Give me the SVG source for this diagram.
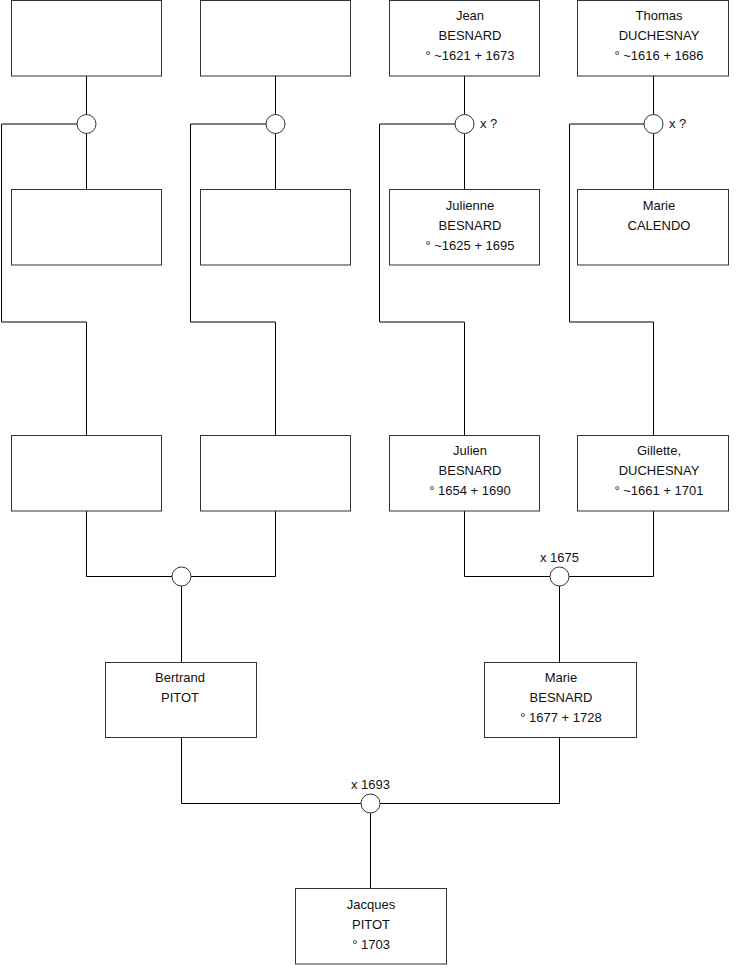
<svg xmlns="http://www.w3.org/2000/svg" width="740" height="975" viewBox="0 0 740 975">
<style>
.box{fill:#fff;stroke:#333;stroke-width:1}
.ln{fill:none;stroke:#000;stroke-width:1}
.m{fill:#fff;stroke:#333;stroke-width:1}
text{font-family:"Liberation Sans",Arial,sans-serif;font-size:13px;fill:#111;text-anchor:middle}
.lbl{text-anchor:start}
</style>
<rect width="740" height="975" fill="#fff"/>
<g id="connectors">
<path class="ln" d="M86.5,76 V189 M1.5,124 H86.5 M1.5,124 V322 H86.5 V435"/>
<path class="ln" d="M275.5,76 V189 M190.5,124 H275.5 M190.5,124 V322 H275.5 V435"/>
<path class="ln" d="M464.5,76 V189 M379.5,124 H464.5 M379.5,124 V322 H464.5 V435"/>
<path class="ln" d="M653.5,76 V189 M569.5,124 H653.5 M569.5,124 V322 H653.5 V435"/>
<path class="ln" d="M86.5,511 V576.5 H275.5 V511 M181.5,576 V662"/>
<path class="ln" d="M464.5,511 V576.5 H653.5 V511 M559.5,576 V662"/>
<path class="ln" d="M181.5,737 V803.5 H559.5 V737 M370.5,803 V888"/>
<circle class="m" cx="86.5" cy="124" r="9.5"/>
<circle class="m" cx="275.5" cy="124" r="9.5"/>
<circle class="m" cx="464.5" cy="124" r="9.5"/>
<circle class="m" cx="653.5" cy="124" r="9.5"/>
<circle class="m" cx="181.5" cy="576.5" r="9.5"/>
<circle class="m" cx="559.5" cy="576.5" r="9.5"/>
<circle class="m" cx="370.5" cy="803.5" r="9.5"/>
<text class="lbl" x="480" y="128">x ?</text>
<text class="lbl" x="669" y="128">x ?</text>
<text x="559.5" y="562">x 1675</text>
<text x="370.5" y="789">x 1693</text>
</g>
<g id="n1"><rect class="box" x="11.5" y="0.5" width="150" height="75.5"/></g>
<g id="n2"><rect class="box" x="200.5" y="0.5" width="150" height="75.5"/></g>
<g id="n3"><rect class="box" x="389.5" y="0.5" width="150" height="75.5"/>
<text x="470" y="20">Jean</text><text x="470" y="40">BESNARD</text><text x="470" y="60">° ~1621 + 1673</text></g>
<g id="n4"><rect class="box" x="577.5" y="0.5" width="151" height="75.5"/>
<text x="659" y="20">Thomas</text><text x="659" y="40">DUCHESNAY</text><text x="659" y="60">° ~1616 + 1686</text></g>
<g id="n5"><rect class="box" x="11.5" y="189.5" width="150" height="75.5"/></g>
<g id="n6"><rect class="box" x="200.5" y="189.5" width="150" height="75.5"/></g>
<g id="n7"><rect class="box" x="389.5" y="189.5" width="150" height="75.5"/>
<text x="470" y="210">Julienne</text><text x="470" y="230">BESNARD</text><text x="470" y="250">° ~1625 + 1695</text></g>
<g id="n8"><rect class="box" x="577.5" y="189.5" width="151" height="75.5"/>
<text x="659" y="210">Marie</text><text x="659" y="230">CALENDO</text></g>
<g id="n9"><rect class="box" x="11.5" y="435.5" width="150" height="75.5"/></g>
<g id="n10"><rect class="box" x="200.5" y="435.5" width="150" height="75.5"/></g>
<g id="n11"><rect class="box" x="389.5" y="435.5" width="150" height="75.5"/>
<text x="470" y="455">Julien</text><text x="470" y="475">BESNARD</text><text x="470" y="495">° 1654 + 1690</text></g>
<g id="n12"><rect class="box" x="577.5" y="435.5" width="151" height="75.5"/>
<text x="659" y="455">Gillette,</text><text x="659" y="475">DUCHESNAY</text><text x="659" y="495">° ~1661 + 1701</text></g>
<g id="n13"><rect class="box" x="105.5" y="662.5" width="151" height="75"/>
<text x="180" y="682">Bertrand</text><text x="180" y="702">PITOT</text></g>
<g id="n14"><rect class="box" x="484.5" y="662.5" width="152" height="75"/>
<text x="561" y="682">Marie</text><text x="561" y="702">BESNARD</text><text x="561" y="722">° 1677 + 1728</text></g>
<g id="n15"><rect class="box" x="295.5" y="888.5" width="151" height="75.5"/>
<text x="371" y="909">Jacques</text><text x="371" y="929">PITOT</text><text x="371" y="949">° 1703</text></g>
</svg>
